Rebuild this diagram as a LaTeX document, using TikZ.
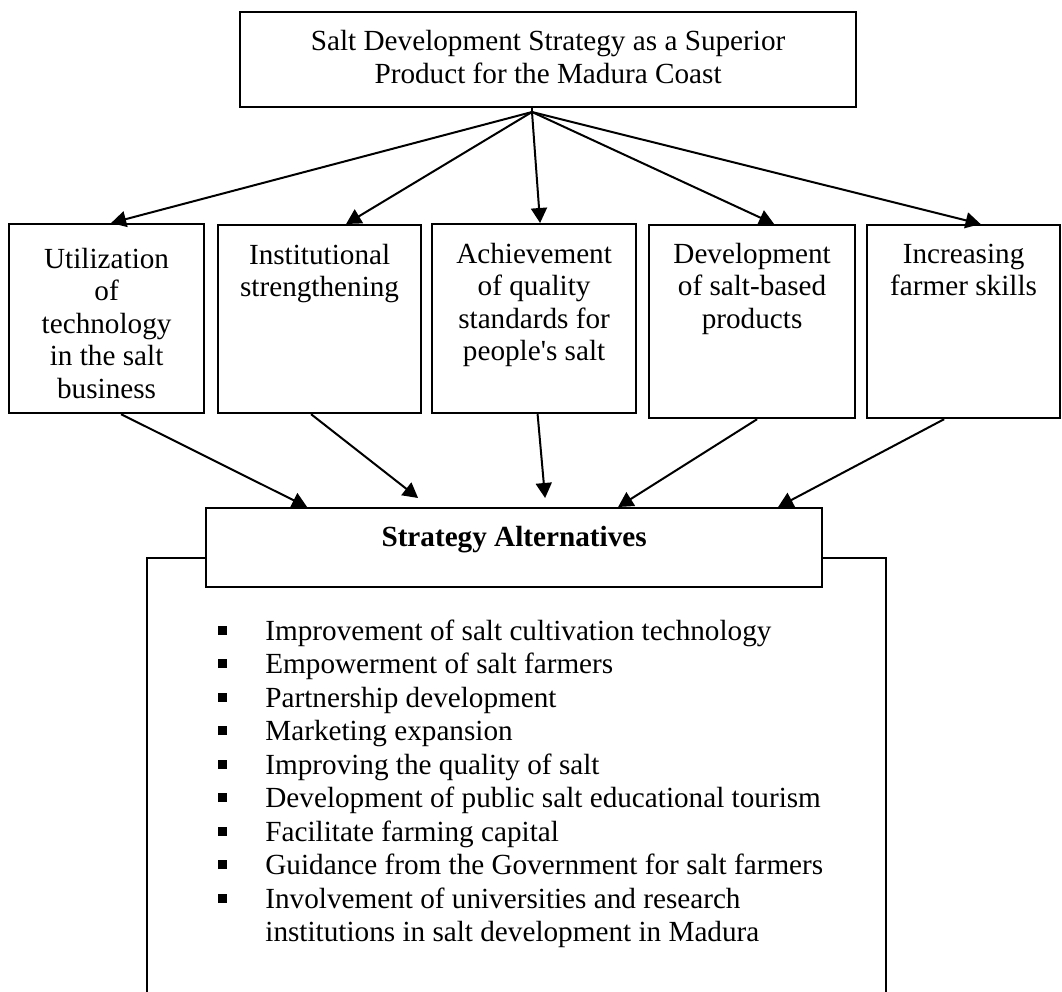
\documentclass[tikz,border=0pt]{standalone}
\usepackage{fontspec}
\setmainfont{Liberation Serif}
\usepackage{tikz}
\usetikzlibrary{arrows.meta}

\newcommand{\boxtext}[4]{\parbox[c][#1][t]{#2}{\centering\rule{0pt}{#3}#4}}
\newcommand{\sqbullet}{\rule[2.75pt]{4.5pt}{4.5pt}}

\begin{document}
\begin{tikzpicture}[x=0.5pt, y=-0.5pt,
    box/.style={rectangle, draw, line width=1.1pt, inner sep=0pt, anchor=north west, font=\fontsize{14.6}{16.25}\selectfont},
    arrow/.style={-{Triangle[length=7.5pt, width=8pt]}, line width=1pt}
]
    \useasboundingbox (0,0) rectangle (1062,992);

    \node[box, font=\fontsize{14.6}{16.5}\selectfont] (top) at (239,11) {\boxtext{47.5pt}{308pt}{19pt}{Salt Development Strategy as a Superior\\Product for the Madura Coast}};

    \node[box] (tech) at (8,223) {\boxtext{94.5pt}{97.5pt}{22pt}{Utilization\\of\\technology\\in the salt\\business}};
    \node[box] (inst) at (217,224) {\boxtext{94pt}{101.5pt}{19.5pt}{Institutional\\strengthening}};
    \node[box] (qual) at (431,223) {\boxtext{94.5pt}{102pt}{19.5pt}{Achievement\\of quality\\standards for\\people\textquotesingle s salt}};
    \node[box] (prod) at (648,224) {\boxtext{96.5pt}{103pt}{19pt}{Development\\of salt-based\\products}};
    \node[box] (skill) at (866,224) {\boxtext{96.5pt}{96.5pt}{19pt}{Increasing\\farmer skills}};

    \draw[line width=1.1pt] (147,992) -- (147,558) -- (886,558) -- (886,992);
    \node[box, fill=white] (strat) at (205,507) {\boxtext{39.5pt}{308pt}{19pt}{\textbf{Strategy Alternatives}}};

    \node[anchor=base west, inner sep=0pt, font=\fontsize{14.6}{16.75}\selectfont] (alts) at (217.5,640) {%
        \begin{tabular}[t]{@{}l@{\hspace{19.25pt}}l@{}}
        \sqbullet & Improvement of salt cultivation technology\\
        \sqbullet & Empowerment of salt farmers\\
        \sqbullet & Partnership development\\
        \sqbullet & Marketing expansion\\
        \sqbullet & Improving the quality of salt\\
        \sqbullet & Development of public salt educational tourism\\
        \sqbullet & Facilitate farming capital\\
        \sqbullet & Guidance from the Government for salt farmers\\
        \sqbullet & Involvement of universities and research\\
                  & institutions in salt development in Madura
        \end{tabular}};

    \coordinate (hub) at (532,112);
    \draw[line width=1pt] (top.south -| hub) -- (hub);
    \draw[arrow] (hub) -- ([xshift=2.25pt]tech.north);
    \draw[arrow] (hub) -- ([xshift=13.25pt]inst.north);
    \draw[arrow] (hub) -- ([xshift=3pt]qual.north);
    \draw[arrow] (hub) -- ([xshift=11pt]prod.north);
    \draw[arrow] (hub) -- ([xshift=8.5pt]skill.north);

    \draw[arrow] ([xshift=7.25pt]tech.south) -- ([xshift=-103.5pt]strat.north);
    \draw[arrow] ([xshift=-4.25pt]inst.south) -- ([xshift=-48pt, yshift=4.5pt]strat.north);
    \draw[arrow] ([xshift=1.75pt]qual.south) -- ([xshift=15.5pt, yshift=4.5pt]strat.north);
    \draw[arrow] ([xshift=2.5pt]prod.south) -- ([xshift=52pt]strat.north);
    \draw[arrow] ([xshift=-9.75pt]skill.south) -- ([xshift=132pt]strat.north);
\end{tikzpicture}
\end{document}
